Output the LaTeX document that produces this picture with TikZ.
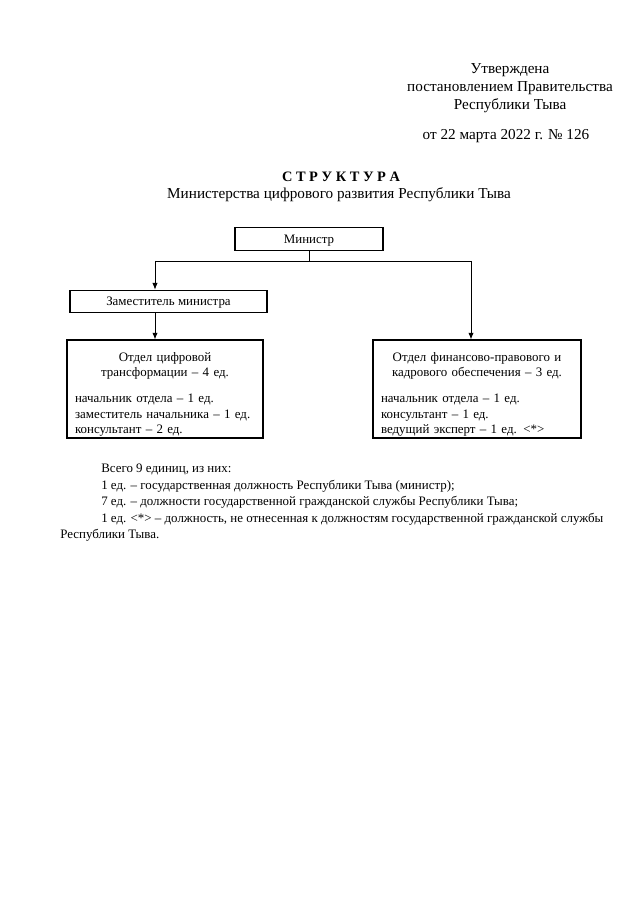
\documentclass[tikz,border=0pt]{standalone}
\usepackage{fontspec}
\setmainfont{Liberation Serif}
\usetikzlibrary{arrows.meta, positioning}

\begin{document}
\begin{tikzpicture}[
  x=0.75pt, y=-0.75pt,
  font=\fontsize{9.7}{11.6}\selectfont,
  box/.style={rectangle, draw, line width=0.8pt, minimum height=17pt,
              text depth=0pt},
  dept/.style={rectangle, draw, line width=0.8pt, align=left,
               minimum height=73.5pt, inner xsep=6pt, inner ysep=0pt},
  txt/.style={inner sep=0pt},
  hdr/.style={inner sep=0pt, align=center,
              font=\fontsize{11.4}{13.5}\selectfont},
  arr/.style={-{Latex[length=5pt, width=4pt]}, line width=0.6pt}
]
\useasboundingbox (0,0) rectangle (640,905);

% header
\node[hdr] (appr) at (510,88) {Утверждена\\постановлением Правительства\\Республики Тыва};
\node[hdr] (date) at (506,136) {от 22 марта 2022 г. № 126};
\node[hdr, font=\fontsize{10.8}{13.5}\selectfont\bfseries] (ttl) at (341,177) {С Т Р У К Т У Р А};
\node[hdr] (sub) at (339,195) {Министерства цифрового развития Республики Тыва};

% boxes
\node[box, minimum width=111pt] (min) at (309,239) {Министр};
\node[box, minimum width=147.75pt] (zam) at (168.5,301.5) {Заместитель министра};
\node[dept, text width=135pt] (cif) at (165,389)
  {{\centering\rule{0pt}{15pt}Отдел цифровой\\трансформации – 4 ед.\par}\vspace{7.8pt}
   начальник отдела – 1 ед.\\заместитель начальника – 1 ед.\\консультант – 2 ед.};
\node[dept, text width=144pt] (fin) at (477,389)
  {{\centering\rule{0pt}{15pt}Отдел финансово-правового и\\кадрового обеспечения – 3 ед.\par}\vspace{7.8pt}
   начальник отдела – 1 ед.\\консультант – 1 ед.\\ведущий эксперт – 1 ед. <*>};

% connectors
\coordinate (bl) at (155,261);
\coordinate (br) at (471,261);
\draw[line width=0.6pt] (min.south) -- (min.south |- bl);
\draw[line width=0.6pt] (bl) -- (br);
\draw[arr] (bl) -- (bl |- zam.north);
\draw[arr] (br) -- (br |- fin.north);
\draw[arr] (zam.south -| bl) -- (bl |- cif.north);

% footnote
\node[txt, anchor=base west] (tot) at (101,472) {Всего 9 единиц, из них:};
\node[txt, anchor=base west] (n1) at (101,489) {1 ед. – государственная должность Республики Тыва (министр);};
\node[txt, anchor=base west] (n2) at (101,505) {7 ед. – должности государственной гражданской службы Республики Тыва;};
\node[txt, anchor=base west] (n3) at (101,522) {1 ед. <*> – должность, не отнесенная к должностям государственной гражданской службы};
\node[txt, anchor=base west] (n4) at (60,538) {Республики Тыва.};
\end{tikzpicture}
\end{document}
